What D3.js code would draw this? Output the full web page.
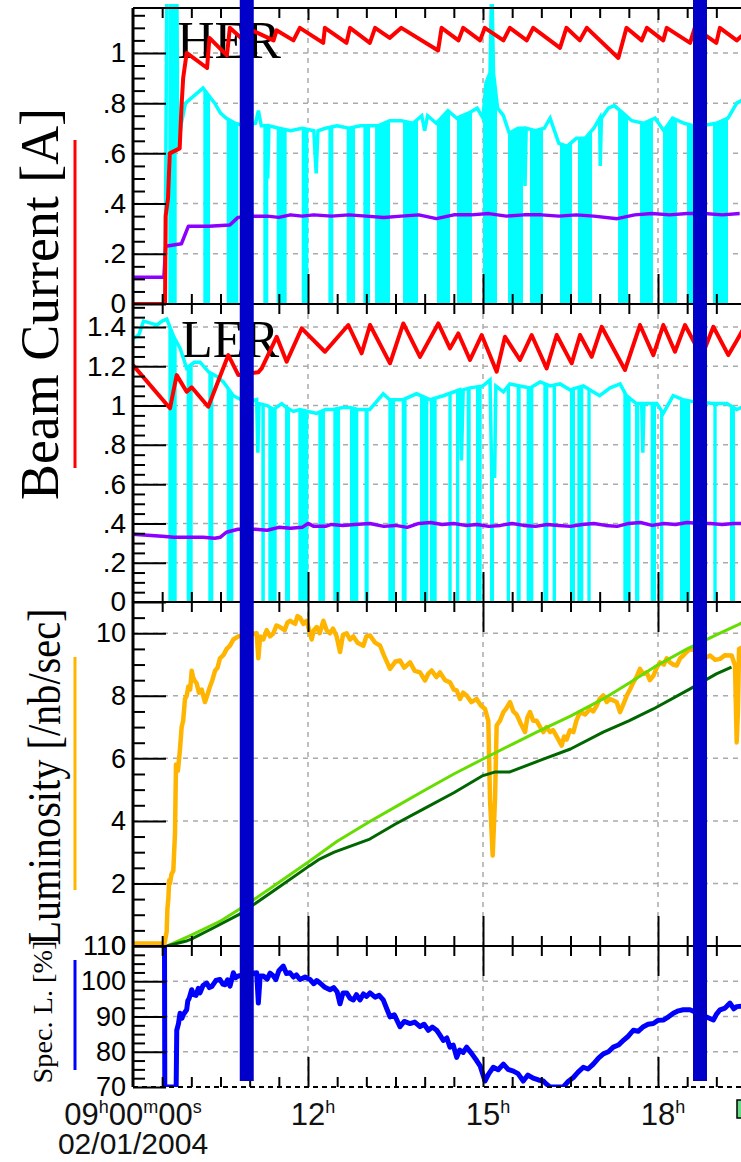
<!DOCTYPE html>
<html>
<head>
<meta charset="utf-8">
<script src="https://cdn.jsdelivr.net/npm/d3@7"></script>
<style>
body { margin: 0; background: #fff; }
svg { display: block; }
text { font-family: "Liberation Sans", Arial, sans-serif; }
.serif { font-family: "Liberation Serif", "Times New Roman", serif; }
</style>
</head>
<body>
<svg id="chart" width="741" height="1162"></svg>
<script>
// values, time in hours of 02/01/2004

// HER panel
var herRed = [[9.0,0],[9.55,0],[9.56,0.35],[9.6,0.42],[9.63,0.6],[9.8,0.62],[9.83,0.78],[9.86,0.9],[9.92,1.0],[10.27,0.94],[10.31,1.06],[10.61,0.99],[10.66,1.1],[10.9,1.05],[10.95,1.1],[11.41,1.05],[11.46,1.09],[11.75,1.05],[11.86,1.1],[12.26,1.04],[12.29,1.1],[12.66,1.04],[12.72,1.1],[13.06,1.04],[13.15,1.1],[13.4,1.06],[13.6,1.1],[14.23,1.01],[14.29,1.1],[14.58,1.05],[14.66,1.1],[14.95,1.05],[15.03,1.1],[15.35,1.05],[15.46,1.1],[15.75,1.05],[15.86,1.1],[16.32,1.02],[16.43,1.1],[16.66,1.05],[16.78,1.1],[17.32,0.98],[17.46,1.1],[17.72,1.05],[17.81,1.1],[18.09,1.05],[18.15,1.1],[18.55,1.04],[18.63,1.1],[19.0,1.04],[19.06,1.1],[19.35,1.05],[19.5,1.08]]
var herPurple = [[9.0,0.107],[9.53,0.107],[9.56,0.23],[9.83,0.24],[9.95,0.31],[10.3,0.31],[10.66,0.315],[10.8,0.345],[11.0,0.35],[11.3,0.35],[11.5,0.345],[11.7,0.355],[11.9,0.35],[12.1,0.355],[12.4,0.35],[12.7,0.355],[13.0,0.35],[13.3,0.345],[13.6,0.35],[13.9,0.355],[14.2,0.34],[14.5,0.355],[14.8,0.355],[15.1,0.36],[15.4,0.35],[15.7,0.355],[16.0,0.355],[16.3,0.35],[16.6,0.355],[16.9,0.35],[17.3,0.34],[17.6,0.355],[17.9,0.36],[18.2,0.355],[18.5,0.36],[18.8,0.36],[19.1,0.355],[19.4,0.36]]
var herCyan = [[9.0,0],[9.55,0],[9.58,1.3],[9.75,1.3],[9.77,0.62],[9.83,0.72],[9.9,0.8],[10.0,0.82],[10.1,0.84],[10.2,0.86],[10.3,0.83],[10.4,0.8],[10.5,0.76],[10.6,0.74],[10.75,0.72],[10.9,0.71],[11.1,0.72],[11.15,0.77],[11.2,0.71],[11.3,0.71],[11.31,0.5],[11.33,0.71],[11.5,0.7],[11.7,0.69],[11.9,0.7],[12.1,0.69],[12.14,0.52],[12.17,0.69],[12.3,0.7],[12.5,0.71],[12.7,0.7],[12.9,0.71],[13.06,0.71],[13.2,0.71],[13.4,0.73],[13.6,0.73],[13.8,0.72],[13.95,0.75],[14.0,0.69],[14.05,0.75],[14.2,0.72],[14.4,0.77],[14.55,0.74],[14.75,0.76],[14.9,0.78],[15.0,0.74],[15.05,0.88],[15.12,0.92],[15.15,1.3],[15.18,0.92],[15.25,0.78],[15.35,0.75],[15.45,0.68],[15.6,0.7],[15.7,0.7],[15.72,0.47],[15.74,0.7],[15.9,0.69],[16.05,0.7],[16.15,0.74],[16.3,0.64],[16.42,0.63],[16.43,0.52],[16.45,0.63],[16.6,0.66],[16.75,0.66],[16.9,0.7],[17.0,0.74],[17.01,0.55],[17.03,0.74],[17.15,0.78],[17.25,0.79],[17.4,0.76],[17.55,0.73],[17.75,0.72],[17.95,0.74],[18.1,0.69],[18.25,0.74],[18.45,0.72],[18.6,0.71],[18.75,0.71],[19.0,0.72],[19.2,0.74],[19.35,0.8],[19.5,0.82]]
// intervals where the HER cyan trace drops to zero
var herCyanDrops = [[9.605,9.749],[10.205,10.32],[10.606,10.806],[11.234,11.32],[11.463,11.634],[11.892,12.006],[12.349,12.434],[12.663,12.806],[12.949,13.063],[13.15,13.406],[13.629,13.886],[14.211,14.434],[14.554,14.811],[15.0,15.24],[15.429,15.686],[15.806,16.029],[16.32,16.526],[16.629,16.869],[17.315,17.486],[17.692,17.914],[18.086,18.326],[18.497,18.6],[18.943,19.2]]

// LER panel
var lerRed = [[9.0,1.206],[9.634,0.986],[9.749,1.155],[9.92,1.07],[10.006,1.093],[10.29,0.994],[10.634,1.257],[10.806,1.155],[11.15,1.17],[11.206,1.189],[11.463,1.35],[11.634,1.223],[11.892,1.393],[12.291,1.274],[12.691,1.41],[12.92,1.266],[13.063,1.41],[13.406,1.215],[13.634,1.418],[13.92,1.248],[14.234,1.418],[14.434,1.291],[14.577,1.367],[14.777,1.232],[14.977,1.359],[15.234,1.172],[15.377,1.35],[15.634,1.232],[15.834,1.359],[16.091,1.189],[16.263,1.359],[16.52,1.215],[16.663,1.359],[16.863,1.248],[17.034,1.401],[17.434,1.181],[17.691,1.41],[17.92,1.257],[18.091,1.41],[18.291,1.274],[18.463,1.41],[18.75,1.25],[18.949,1.401],[19.206,1.257],[19.349,1.33],[19.5,1.41]]
var lerPurple = [[9.0,0.345],[9.5,0.335],[9.7,0.33],[10.2,0.33],[10.4,0.325],[10.5,0.33],[10.6,0.355],[10.8,0.37],[11.1,0.37],[11.3,0.365],[11.5,0.38],[11.7,0.375],[11.9,0.38],[12.0,0.4],[12.1,0.385],[12.3,0.385],[12.4,0.395],[12.6,0.39],[12.8,0.395],[13.06,0.4],[13.3,0.385],[13.5,0.39],[13.7,0.38],[13.9,0.4],[14.1,0.405],[14.3,0.395],[14.5,0.4],[14.7,0.39],[14.9,0.395],[15.1,0.385],[15.3,0.39],[15.5,0.4],[15.7,0.39],[15.9,0.385],[16.1,0.395],[16.3,0.39],[16.5,0.385],[16.7,0.395],[16.9,0.4],[17.1,0.39],[17.3,0.385],[17.5,0.4],[17.7,0.405],[17.9,0.39],[18.1,0.4],[18.3,0.395],[18.5,0.405],[18.7,0.4],[18.9,0.4],[19.1,0.395],[19.3,0.4],[19.5,0.4]]
var lerCyan = [[9.0,1.34],[9.1,1.36],[9.18,1.43],[9.3,1.42],[9.41,1.41],[9.5,1.43],[9.58,1.44],[9.7,1.35],[9.81,1.29],[9.92,1.19],[10.05,1.22],[10.15,1.22],[10.3,1.17],[10.43,1.15],[10.55,1.12],[10.72,1.05],[10.85,1.03],[11.0,1.02],[11.12,1.03],[11.14,0.76],[11.16,1.01],[11.3,1.0],[11.41,0.98],[11.55,1.01],[11.63,0.99],[11.75,0.97],[11.86,0.98],[12.0,0.97],[12.15,0.96],[12.3,0.98],[12.43,0.98],[12.6,0.99],[12.72,0.99],[12.85,0.98],[13.06,0.98],[13.29,1.06],[13.4,1.03],[13.63,1.03],[13.86,1.06],[14.09,1.03],[14.32,1.05],[14.6,1.08],[14.63,0.72],[14.66,1.08],[14.78,1.09],[15.0,1.1],[15.12,1.13],[15.15,0.64],[15.2,0.64],[15.22,1.1],[15.35,1.07],[15.46,1.11],[15.63,1.1],[15.81,1.09],[15.98,1.12],[16.15,1.1],[16.32,1.11],[16.49,1.08],[16.72,1.1],[17.0,1.05],[17.18,1.09],[17.35,1.11],[17.46,1.05],[17.63,1.01],[17.72,1.01],[17.74,0.76],[17.76,1.01],[17.98,1.01],[18.09,0.96],[18.26,1.05],[18.43,1.03],[18.6,1.02],[18.95,1.01],[19.18,1.01],[19.35,0.98],[19.5,1.0]]
var lerCyanDrops = [[9.606,9.749],[9.92,10.023],[10.291,10.377],[10.606,10.72],[10.85,10.95],[11.2,11.26],[11.32,11.463],[11.606,11.691],[11.834,12.006],[12.177,12.291],[12.434,12.549],[12.72,12.863],[12.97,13.04],[13.377,13.491],[13.606,13.691],[13.92,14.063],[14.091,14.206],[14.406,14.463],[14.537,14.594],[14.72,14.789],[14.88,14.977],[15.12,15.189],[15.406,15.463],[15.577,15.646],[15.749,15.863],[16.034,16.12],[16.194,16.251],[16.491,16.577],[16.617,16.72],[16.789,16.846],[17.406,17.531],[17.606,17.68],[17.874,17.966],[18.034,18.091],[18.377,18.549],[18.949,19.006],[19.234,19.32]]

// luminosity panel
var lumOrange = [[9.0,0.08],[9.54,0.08],[9.577,0.45],[9.59,1.2],[9.606,1.5],[9.62,2.1],[9.634,2.0],[9.66,2.3],[9.691,2.4],[9.72,3.6],[9.737,5.8],[9.77,5.6],[9.806,6.3],[9.834,7.0],[9.86,7.2],[9.891,7.9],[9.92,8.0],[9.949,8.3],[9.98,8.2],[10.006,8.8],[10.03,8.6],[10.05,8.5],[10.091,8.4],[10.13,8.1],[10.177,8.2],[10.234,7.8],[10.27,8.0],[10.32,8.3],[10.36,8.5],[10.406,8.8],[10.45,8.9],[10.491,9.2],[10.55,9.3],[10.606,9.5],[10.66,9.6],[10.72,9.8],[10.806,9.9],[10.95,9.95],[11.12,10.0],[11.149,9.2],[11.18,9.9],[11.234,9.8],[11.291,10.1],[11.35,9.9],[11.406,10.0],[11.46,10.25],[11.52,10.2],[11.6,10.1],[11.65,10.35],[11.691,10.4],[11.78,10.3],[11.82,10.55],[11.863,10.5],[11.92,10.3],[11.977,10.4],[12.02,10.1],[12.063,9.8],[12.1,10.1],[12.149,10.2],[12.2,10.0],[12.263,10.4],[12.32,10.1],[12.377,10.0],[12.43,10.15],[12.491,9.9],[12.549,9.4],[12.6,9.95],[12.663,10.0],[12.72,9.8],[12.777,9.9],[12.85,9.7],[12.949,9.6],[13.0,9.9],[13.063,9.93],[13.15,9.7],[13.234,9.61],[13.3,9.3],[13.406,8.86],[13.5,9.1],[13.577,9.13],[13.65,8.9],[13.749,9.07],[13.83,8.8],[13.92,8.75],[14.006,8.49],[14.06,8.7],[14.12,8.81],[14.2,8.6],[14.263,8.75],[14.35,8.5],[14.434,8.43],[14.5,8.2],[14.549,8.17],[14.606,7.9],[14.66,8.1],[14.72,8.01],[14.8,7.8],[14.891,7.9],[14.96,7.7],[15.034,7.58],[15.091,7.2],[15.12,4.7],[15.166,2.89],[15.206,4.7],[15.234,7.05],[15.29,7.2],[15.349,7.48],[15.4,7.6],[15.463,7.8],[15.52,7.5],[15.577,7.4],[15.65,7.1],[15.72,6.84],[15.76,7.3],[15.806,7.48],[15.86,7.2],[15.92,7.2],[15.98,7.0],[16.034,6.84],[16.09,7.0],[16.149,6.84],[16.2,6.9],[16.263,6.7],[16.349,6.41],[16.39,6.7],[16.434,6.6],[16.49,6.9],[16.549,6.84],[16.6,7.2],[16.663,7.48],[16.75,7.4],[16.834,7.58],[16.89,7.5],[16.949,7.69],[17.0,7.9],[17.063,8.01],[17.12,7.8],[17.177,7.9],[17.291,7.8],[17.349,7.48],[17.4,7.7],[17.463,8.0],[17.52,8.2],[17.577,8.43],[17.63,8.6],[17.691,8.86],[17.75,8.7],[17.806,8.75],[17.86,8.5],[17.92,8.64],[17.98,8.9],[18.034,9.07],[18.1,9.0],[18.15,9.2],[18.206,9.07],[18.26,9.0],[18.32,8.97],[18.38,9.2],[18.434,9.29],[18.49,9.4],[18.549,9.5],[18.7,9.4],[18.8,9.2],[18.891,9.29],[18.98,9.15],[19.063,9.18],[19.15,9.3],[19.263,9.29],[19.32,8.97],[19.349,6.51],[19.37,7.5],[19.389,9.5],[19.5,9.6]]
var lumLightGreen = [[9.58,0],[10.0,0.35],[10.5,0.8],[10.83,1.18],[11.4,1.9],[12.03,2.72],[12.5,3.35],[13.06,3.98],[13.5,4.45],[14.0,4.98],[14.5,5.5],[15.0,5.98],[15.5,6.45],[15.92,6.84],[16.5,7.35],[17.06,7.9],[17.5,8.4],[17.98,8.97],[18.5,9.5],[19.0,9.95],[19.35,10.25],[19.6,10.5]]
var lumDarkGreen = [[9.58,0],[9.9,0.15],[10.0,0.22],[10.4,0.6],[10.83,1.02],[11.4,1.75],[12.03,2.57],[12.2,2.78],[12.45,3.0],[13.06,3.42],[13.5,3.9],[14.0,4.4],[14.5,4.9],[15.0,5.45],[15.2,5.56],[15.45,5.56],[16.0,5.95],[16.5,6.3],[17.06,6.84],[17.5,7.2],[17.92,7.58],[18.55,8.22],[19.0,8.7],[19.26,8.92]]

// specific luminosity panel
var specBlue = [[9.54,110],[9.545,68],[9.74,68],[9.75,86.1],[9.78,88],[9.806,90.9],[9.84,89.5],[9.86,90.5],[9.92,91.9],[9.94,94.5],[9.96,95],[10.006,97.6],[10.04,96.2],[10.08,96],[10.12,98],[10.149,96.7],[10.2,98.8],[10.263,99.5],[10.31,98.2],[10.35,98.5],[10.42,100.2],[10.491,100.5],[10.54,99.2],[10.58,99],[10.62,100.4],[10.663,98.6],[10.72,102.4],[10.76,101],[10.806,101.5],[11.12,102.4],[11.149,93.8],[11.18,101.5],[11.234,101.5],[11.3,100.6],[11.35,102.3],[11.406,101.5],[11.45,100.5],[11.5,103],[11.577,104.3],[11.63,102.2],[11.691,102.4],[11.75,101.2],[11.8,101.8],[11.863,100.5],[11.95,101.2],[12.034,100.5],[12.1,99.3],[12.15,100.2],[12.206,99.5],[12.28,98.4],[12.377,97.6],[12.44,98.2],[12.5,97],[12.549,93.6],[12.6,96.7],[12.663,96.7],[12.72,95.2],[12.777,94.7],[12.83,96.2],[12.891,94.7],[12.95,96.4],[13.006,95.7],[13.063,96.7],[13.15,95.5],[13.22,96.0],[13.29,94.7],[13.35,92.2],[13.406,89.9],[13.48,90.5],[13.577,87.1],[13.65,88.6],[13.749,88.0],[13.83,88.4],[13.92,87.1],[13.99,87.8],[14.063,86.1],[14.13,87.0],[14.206,86.1],[14.26,84.8],[14.32,83.2],[14.38,83.9],[14.434,81.3],[14.49,81.9],[14.549,78.4],[14.6,80.5],[14.66,79.8],[14.72,81.3],[14.8,79.6],[14.891,77.5],[14.95,76.0],[15.034,71.7],[15.1,73.8],[15.177,75.6],[15.26,74.9],[15.349,76.5],[15.43,75.0],[15.52,74.5],[15.6,73.8],[15.69,71.7],[15.77,73.4],[15.86,72.5],[15.95,72.0],[16.034,71.7],[16.09,70.8],[16.149,70],[16.377,70],[16.45,71.4],[16.549,72.7],[16.63,74.2],[16.72,75.6],[16.8,75.1],[16.891,76.5],[16.98,78.2],[17.063,79.4],[17.15,80.0],[17.234,81.3],[17.32,81.9],[17.406,83.2],[17.49,84.4],[17.577,86.1],[17.66,85.8],[17.749,87.1],[17.83,87.8],[17.92,88.0],[18.0,88.9],[18.09,89.0],[18.18,89.9],[18.263,90.9],[18.35,91.6],[18.434,91.9],[18.549,91.9],[18.949,89.0],[19.0,90.6],[19.063,91.9],[19.15,92.4],[19.234,93.8],[19.3,92.2],[19.349,92.8],[19.5,93]]

// thick blue markers across all panels
var markerTimes = [10.95, 18.72]

// tick values and labels
var herTicks = [0, 0.2, 0.4, 0.6, 0.8, 1]
var herTickLabels = ["0", ".2", ".4", ".6", ".8", "1"]
var lerTicks = [0, 0.2, 0.4, 0.6, 0.8, 1, 1.2, 1.4]
var lerTickLabels = ["0", ".2", ".4", ".6", ".8", "1", "1.2", "1.4"]
var lumTicks = [0, 2, 4, 6, 8, 10]
var lumTickLabels = ["0", "2", "4", "6", "8", "10"]
var specTicks = [70, 80, 90, 100, 110]
var specTickLabels = ["70", "80", "90", "100", "110"]
var hourTicks = [12, 15, 18, 21]
var hourLabels = ["12", "15", "18"]

var svg = d3.select("#chart")
var x = d3.scaleLinear().domain([9, 21]).range([133, 833])
var left = 133, right = 900

var panels = [
  {id: "her", top: 8, bottom: 304, dom: [0, 1.179], ticks: herTicks, labels: herTickLabels, minor: 0.05, fs: 28, topLen: 12},
  {id: "ler", top: 304, bottom: 602, dom: [0, 1.517], ticks: lerTicks, labels: lerTickLabels, minor: 0.05, fs: 28, topLen: 10},
  {id: "lum", top: 602, bottom: 946, dom: [0, 11.0], ticks: lumTicks, labels: lumTickLabels, minor: 0.5, fs: 27, topLen: 30},
  {id: "spec", top: 946, bottom: 1087, dom: [70, 110], ticks: specTicks, labels: specTickLabels, minor: 2.5, fs: 27, topLen: 30}
]
panels.forEach(function(p) {
  p.y = d3.scaleLinear().domain(p.dom).range([p.bottom, p.top]).clamp(p.id == "spec")
})
var P = {}
panels.forEach(function(p) { P[p.id] = p })

var defs = svg.append("defs")
panels.forEach(function(p) {
  defs.append("clipPath").attr("id", "clip-" + p.id)
    .append("rect").attr("x", left).attr("y", p.top - 4).attr("width", right - left).attr("height", p.bottom - p.top + 4)
})

var minorHours = d3.range(9.5, 21, 0.5).filter(function(h) { return h % 3 != 0 })

// grid
panels.forEach(function(p) {
  var g = svg.append("g")
  g.selectAll("line.h").data(p.ticks.filter(function(v) { return v > p.dom[0] })).enter().append("line")
    .attr("x1", left).attr("x2", right)
    .attr("y1", function(d) { return p.y(d) }).attr("y2", function(d) { return p.y(d) })
    .attr("stroke", "#aaa").attr("stroke-width", 1.5).attr("stroke-dasharray", "5,5")
  g.selectAll("line.v").data(hourTicks).enter().append("line")
    .attr("x1", function(d) { return x(d) }).attr("x2", function(d) { return x(d) })
    .attr("y1", p.top).attr("y2", p.bottom)
    .attr("stroke", "#aaa").attr("stroke-width", 1.5).attr("stroke-dasharray", "5,5")
})

// panel names
svg.append("text").attr("class", "serif").attr("x", 177).attr("y", 58).attr("font-size", 52).text("HER")
svg.append("text").attr("class", "serif").attr("x", 181).attr("y", 357).attr("font-size", 52).text("LER")

function lineOf(p) {
  return d3.line().x(function(d) { return x(d[0]) }).y(function(d) { return p.y(d[1]) })
}

// cyan trace with dropouts: bars to zero, cut by the area under the trace
function cyanBlock(p, trace, drops) {
  defs.append("clipPath").attr("id", "area-" + p.id).append("path")
    .attr("d", d3.area().x(function(d) { return x(d[0]) }).y0(p.y(0)).y1(function(d) { return p.y(d[1]) })(trace))
  var g = svg.append("g").attr("clip-path", "url(#clip-" + p.id + ")")
  g.append("g").attr("clip-path", "url(#area-" + p.id + ")")
    .selectAll("rect").data(drops).enter().append("rect")
    .attr("x", function(d) { return x(d[0]) })
    .attr("width", function(d) { return Math.max(2.5, x(d[1]) - x(d[0])) })
    .attr("y", p.top - 10).attr("height", p.bottom - p.top + 10)
    .attr("fill", "#00ffff")
  g.append("path").datum(trace).attr("d", lineOf(p))
    .attr("fill", "none").attr("stroke", "#00ffff").attr("stroke-width", 3.5)
}

function series(p, data, color, w) {
  svg.append("g").attr("clip-path", "url(#clip-" + p.id + ")")
    .append("path").datum(data).attr("d", lineOf(p))
    .attr("fill", "none").attr("stroke", color).attr("stroke-width", w)
    .attr("stroke-linejoin", "round")
}

cyanBlock(P.her, herCyan, herCyanDrops)
series(P.her, herPurple, "#8c00ff", 3.5)
series(P.her, herRed, "#ff0000", 4)

cyanBlock(P.ler, lerCyan, lerCyanDrops)
series(P.ler, lerPurple, "#8c00ff", 3.5)
series(P.ler, lerRed, "#ff0000", 4)

series(P.lum, lumOrange, "#ffb400", 4.5)
series(P.lum, lumLightGreen, "#66dd00", 3)
series(P.lum, lumDarkGreen, "#006600", 3)

series(P.spec, specBlue, "#0000ff", 5)

// axes
panels.forEach(function(p) {
  var g = svg.append("g").attr("class", "axis")
  var minorVals = d3.range(p.dom[0], p.dom[1], p.minor).filter(function(v) {
    return p.ticks.indexOf(Math.round(v * 100) / 100) < 0
  })
  g.append("g").attr("transform", "translate(" + left + ",0)")
    .call(d3.axisRight(p.y).tickValues(p.ticks).tickSize(33).tickFormat(""))
  g.append("g").attr("transform", "translate(" + left + ",0)")
    .call(d3.axisRight(p.y).tickValues(minorVals).tickSize(12).tickFormat(""))
  g.append("g").attr("transform", "translate(" + left + ",0)")
    .call(d3.axisLeft(p.y).tickValues(p.ticks).tickSize(0).tickPadding(7)
      .tickFormat(function(d, i) { return p.labels[i] }))
    .selectAll("text").attr("font-size", p.fs).attr("fill", "#000")
  // time ticks on top and bottom edges, pointing inward
  g.append("g").attr("transform", "translate(0," + p.top + ")")
    .call(d3.axisBottom(x).tickValues(minorHours).tickSize(10).tickFormat(""))
  g.append("g").attr("transform", "translate(0," + p.top + ")")
    .call(d3.axisBottom(x).tickValues(hourTicks).tickSize(p.topLen).tickFormat(""))
  g.append("g").attr("transform", "translate(0," + p.bottom + ")")
    .call(d3.axisTop(x).tickValues(minorHours).tickSize(10).tickFormat(""))
  g.append("g").attr("transform", "translate(0," + p.bottom + ")")
    .call(d3.axisTop(x).tickValues(hourTicks).tickSize(30).tickFormat(""))
})
svg.selectAll(".axis .domain").remove()
svg.selectAll(".axis line").attr("stroke", "#000").attr("stroke-width", 2)

// frame
panels.forEach(function(p) {
  svg.append("line").attr("x1", left).attr("x2", right).attr("y1", p.top).attr("y2", p.top)
    .attr("stroke", "#000").attr("stroke-width", 2)
})
svg.append("line").attr("x1", left).attr("x2", right).attr("y1", P.spec.bottom).attr("y2", P.spec.bottom)
  .attr("stroke", "#000").attr("stroke-width", 2).attr("stroke-dasharray", "5,4")
svg.append("line").attr("x1", left).attr("x2", left).attr("y1", P.her.top).attr("y2", P.spec.bottom)
  .attr("stroke", "#000").attr("stroke-width", 3)

// time labels
var xl = svg.append("g").attr("font-size", 31).attr("fill", "#111")
var t0 = xl.append("text").attr("x", x(9)).attr("y", 1125).attr("text-anchor", "middle")
t0.append("tspan").text("09")
t0.append("tspan").attr("font-size", 18).attr("dy", -12).text("h")
t0.append("tspan").attr("dy", 12).text("00")
t0.append("tspan").attr("font-size", 18).attr("dy", -12).text("m")
t0.append("tspan").attr("dy", 12).text("00")
t0.append("tspan").attr("font-size", 18).attr("dy", -12).text("s")
xl.append("text").attr("x", x(9)).attr("y", 1154).attr("font-size", 30).attr("text-anchor", "middle").text("02/01/2004")
xl.selectAll("text.hr").data(hourLabels).enter().append("text").attr("class", "hr")
  .attr("x", function(d) { return x(+d) + 5 }).attr("y", 1125).attr("text-anchor", "middle")
  .each(function(d) {
    var t = d3.select(this)
    t.append("tspan").text(d)
    t.append("tspan").attr("font-size", 18).attr("dy", -12).text("h")
  })

// y titles with colour keys
svg.append("text").attr("class", "serif").attr("transform", "translate(58,304) rotate(-90)")
  .attr("text-anchor", "middle").attr("font-size", 54).attr("textLength", 392).attr("lengthAdjust", "spacingAndGlyphs")
  .text("Beam Current [A]")
svg.append("text").attr("class", "serif").attr("transform", "translate(60,777) rotate(-90)")
  .attr("text-anchor", "middle").attr("font-size", 46).attr("textLength", 337).attr("lengthAdjust", "spacingAndGlyphs")
  .text("Luminosity [/nb/sec]")
svg.append("text").attr("class", "serif").attr("transform", "translate(52,1012) rotate(-90)")
  .attr("text-anchor", "middle").attr("font-size", 28).attr("textLength", 143).attr("lengthAdjust", "spacingAndGlyphs")
  .text("Spec. L. [%]")
svg.append("line").attr("x1", 75).attr("x2", 75).attr("y1", 140).attr("y2", 468).attr("stroke", "#ff0000").attr("stroke-width", 3)
svg.append("line").attr("x1", 75).attr("x2", 75).attr("y1", 657).attr("y2", 890).attr("stroke", "#ffb400").attr("stroke-width", 3)
svg.append("line").attr("x1", 75).attr("x2", 75).attr("y1", 960).attr("y2", 1070).attr("stroke", "#0000ff").attr("stroke-width", 3)

// cut-off legend swatch at the right edge
svg.append("rect").attr("x", 737).attr("y", 1100).attr("width", 8).attr("height", 18)
  .attr("fill", "#66dd88").attr("stroke", "#000").attr("stroke-width", 1.5)

// markers on top
svg.selectAll("rect.marker").data(markerTimes).enter().append("rect").attr("class", "marker")
  .attr("x", function(d) { return x(d) - 7 }).attr("width", 14)
  .attr("y", 0).attr("height", 1081).attr("fill", "#0000c8")
</script>
</body>
</html>
